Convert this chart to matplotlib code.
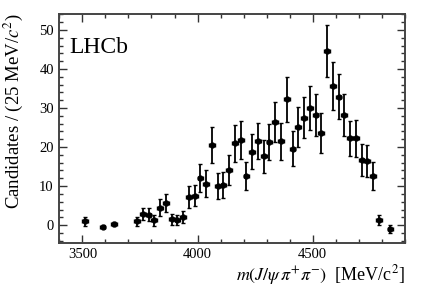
import numpy as np
import matplotlib
matplotlib.use("Agg")
import matplotlib.pyplot as plt
from matplotlib.ticker import MultipleLocator

plt.rcParams["font.family"] = ["Liberation Serif", "DejaVu Serif"]
plt.rcParams["mathtext.fontset"] = "stix"

# bin centres [MeV/c^2], candidates per 25 MeV, and errors
mass = [3512.5, 3587.5, 3637.5, 3737.5, 3762.5, 3787.5, 3812.5, 3837.5,
        3862.5, 3887.5, 3912.5, 3937.5, 3962.5, 3987.5, 4012.5, 4037.5,
        4062.5, 4087.5, 4112.5, 4137.5, 4162.5, 4187.5, 4212.5, 4237.5,
        4262.5, 4287.5, 4312.5, 4337.5, 4362.5, 4387.5, 4412.5, 4437.5,
        4462.5, 4487.5, 4512.5, 4537.5, 4562.5, 4587.5, 4612.5, 4637.5,
        4662.5, 4687.5, 4712.5, 4737.5, 4762.5, 4787.5, 4837.5]
counts = [1.0, -0.4, 0.4, 1.0, 2.8, 2.7, 1.2, 4.5,
          5.7, 1.5, 1.3, 2.1, 7.2, 7.5, 12.1, 10.6,
          20.5, 10.1, 10.3, 14.1, 21.0, 21.8, 12.6, 18.8,
          21.6, 17.6, 21.2, 26.4, 21.5, 32.2, 19.6, 25.2,
          27.5, 30.0, 28.2, 23.6, 44.6, 35.6, 32.9, 28.2,
          22.2, 22.2, 16.8, 16.5, 12.6, 1.3, -1.0]
errors = [1.1, 0.4, 0.5, 1.1, 1.6, 1.6, 1.4, 2.1,
          2.4, 1.4, 1.3, 1.5, 2.8, 2.7, 3.6, 3.4,
          4.6, 3.3, 3.4, 3.8, 4.7, 4.9, 3.6, 4.5,
          4.6, 4.2, 4.6, 5.1, 4.7, 5.8, 4.5, 5.1,
          5.3, 5.6, 5.3, 5.0, 6.7, 6.1, 5.8, 5.4,
          4.6, 4.7, 4.1, 4.1, 3.6, 1.3, 1.1]
bin_half = 12.5

fig = plt.figure(figsize=(4.27, 2.9), dpi=100)
ax = fig.add_axes([0.139, 0.163, 0.809, 0.789])

ax.errorbar(mass, counts, yerr=errors, xerr=bin_half, fmt="o", color="black",
            markersize=3.5, elinewidth=1.3, capsize=1.2, capthick=1.0)

ax.set_xlim(3400, 4900)
ax.set_ylim(-4.5, 54.1)
ax.xaxis.set_major_locator(MultipleLocator(500))
ax.xaxis.set_minor_locator(MultipleLocator(100))
ax.yaxis.set_major_locator(MultipleLocator(10))
ax.yaxis.set_minor_locator(MultipleLocator(2))
ax.tick_params(which="both", direction="in", top=True, right=True,
               labelsize=10.5, color="#333333")
ax.tick_params(which="major", length=6, width=1, pad=4)
ax.tick_params(which="minor", length=3, width=1)
for s in ax.spines.values():
    s.set_linewidth(1.4)
    s.set_color("#444444")

ax.set_xlabel(r"$m(J/\psi\,\pi^{+}\pi^{-})$  [MeV/c$^{2}$]", fontsize=13,
              loc="right", labelpad=1)
ax.set_ylabel(r"Candidates / (25 MeV/$c^{2}$)", fontsize=13.5, loc="top")
ax.yaxis.set_label_coords(-0.098, 1.005, transform=ax.transAxes)
ax.yaxis.label.set_horizontalalignment("right")

ax.text(0.03, 0.83, "LHCb", transform=ax.transAxes, fontsize=17)

fig.savefig("out.png", dpi=100)
